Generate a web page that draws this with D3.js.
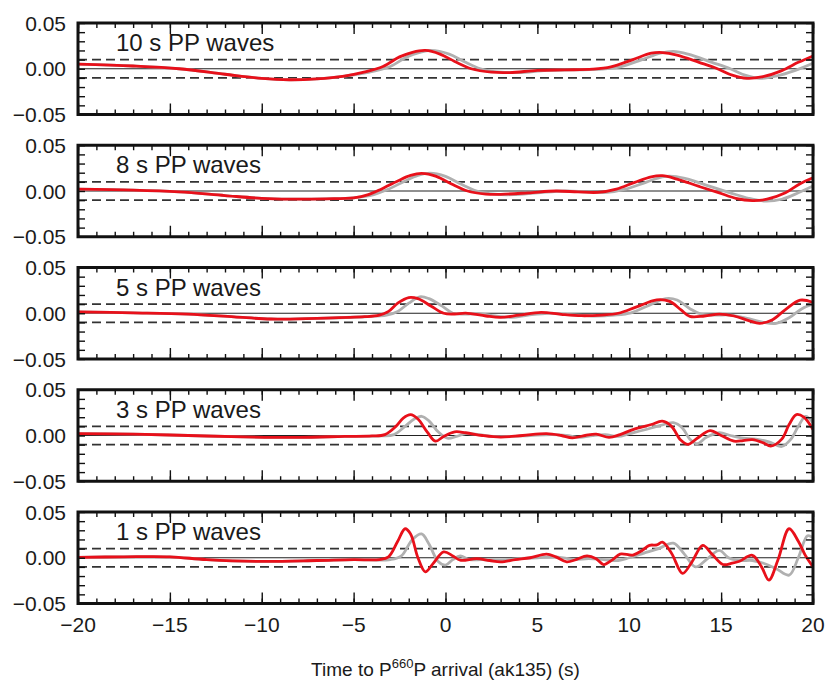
<!DOCTYPE html>
<html>
<head>
<meta charset="utf-8">
<script src="https://cdn.jsdelivr.net/npm/d3@7"></script>
<style>
  body { margin: 0; background: #fff; }
  text { font-family: "Liberation Sans", Arial, Helvetica, sans-serif; fill: #1a1a1a; }
</style>
</head>
<body>
<script>
// panel titles, top to bottom
var titles = ["10 s PP waves", "8 s PP waves", "5 s PP waves", "3 s PP waves", "1 s PP waves"];

var xTicks = [-20, -15, -10, -5, 0, 5, 10, 15, 20];
var yTicks = [-0.05, 0.00, 0.05];

// [time (s), amplitude]
// red = observed/new model, gray = reference (slightly later)
var red10 = [[-20,0.005],[-17,0.003],[-14.5,0.0],[-12,-0.006],[-10,-0.0105],[-8.5,-0.012],[-7,-0.011],[-5.5,-0.008],[-4.5,-0.004],[-3.4,0.0025],[-2.5,0.013],[-1.8,0.018],[-1.1,0.02],[-0.3,0.016],[0.5,0.008],[1.4,0.0],[2.5,-0.0038],[3.5,-0.0042],[5,-0.0018],[6.5,-0.0012],[8,-0.0005],[9,0.002],[10.2,0.01],[11.2,0.017],[11.8,0.0177],[12.6,0.015],[13.8,0.007],[14.8,0.0],[15.6,-0.007],[16.4,-0.0105],[17.2,-0.009],[18.3,-0.002],[19.2,0.007],[20,0.014]];
var gray10 = [[-20,0.005],[-17,0.003],[-14.5,0.0],[-12,-0.006],[-10,-0.0105],[-8.5,-0.012],[-7,-0.011],[-5.5,-0.008],[-4.2,-0.004],[-3.0,0.0025],[-2.1,0.013],[-1.4,0.018],[-0.8,0.02],[0.2,0.016],[1.0,0.008],[1.9,0.0],[3,-0.0038],[4,-0.0042],[5.5,-0.0018],[7,-0.0012],[8.5,-0.0005],[9.5,0.002],[10.7,0.01],[11.7,0.017],[12.4,0.019],[13.2,0.016],[14.5,0.007],[15.5,0.0],[16.3,-0.007],[17.1,-0.0105],[18,-0.008],[19,-0.002],[20,0.006]];

var red8 = [[-20,0.002],[-17,0.001],[-14.5,-0.001],[-12,-0.005],[-10,-0.008],[-8.5,-0.0088],[-6.5,-0.0085],[-5,-0.0075],[-4.2,-0.004],[-3.5,0.002],[-2.6,0.011],[-1.9,0.017],[-1.3,0.0192],[-0.5,0.016],[0.3,0.008],[1.2,0.0],[2.2,-0.0033],[3.0,-0.0036],[4.5,-0.002],[6,0.0],[7.2,-0.001],[8.3,-0.0015],[9.3,0.002],[10.3,0.0095],[11.2,0.0155],[11.8,0.0167],[12.6,0.013],[13.8,0.005],[14.9,-0.002],[15.8,-0.008],[16.7,-0.0105],[17.5,-0.009],[18.5,-0.002],[19.3,0.008],[20,0.0145]];
var gray8 = [[-20,0.002],[-17,0.001],[-14.5,-0.001],[-12,-0.005],[-10,-0.008],[-8.5,-0.0088],[-6.5,-0.0085],[-5,-0.0075],[-3.9,-0.004],[-3.1,0.002],[-2.2,0.011],[-1.5,0.017],[-0.85,0.0195],[0.0,0.016],[0.8,0.008],[1.7,0.0],[2.7,-0.0035],[3.7,-0.004],[5,-0.002],[6.5,0.0],[7.7,-0.001],[8.8,-0.0015],[9.8,0.002],[10.9,0.0095],[11.8,0.0155],[12.4,0.016],[13.2,0.013],[14.4,0.005],[15.5,-0.002],[16.5,-0.008],[17.4,-0.011],[18.3,-0.009],[19.2,-0.002],[20,0.0054]];

var red5 = [[-20,0.0016],[-17,0.0005],[-14,-0.001],[-11.5,-0.004],[-9.5,-0.0063],[-7,-0.0055],[-4.4,-0.0038],[-3.6,-0.002],[-3.1,0.002],[-2.6,0.011],[-2.0,0.0172],[-1.5,0.016],[-0.8,0.008],[-0.1,0.0],[0.5,-0.0008],[1.1,0.0002],[2.2,-0.003],[3.0,-0.0045],[4.0,-0.002],[5.2,0.001],[6.3,-0.0012],[7.4,-0.0027],[8.5,-0.002],[9.4,0.0],[10.4,0.007],[11.5,0.0147],[12.2,0.013],[12.8,0.004],[13.3,-0.0035],[14.1,-0.003],[14.9,-0.001],[15.7,-0.003],[16.5,-0.008],[17.1,-0.011],[17.8,-0.007],[18.5,0.004],[19.3,0.0143],[20,0.0118]];
var gray5 = [[-20,0.0016],[-17,0.0005],[-14,-0.001],[-11.5,-0.004],[-9.5,-0.0063],[-7,-0.0055],[-4.4,-0.0038],[-3.2,-0.002],[-2.6,0.002],[-2.0,0.011],[-1.4,0.018],[-0.9,0.016],[-0.2,0.008],[0.4,0.0],[1.1,-0.001],[1.8,-0.0005],[2.7,-0.003],[3.6,-0.0045],[4.5,-0.002],[5.6,0.0],[6.8,-0.0015],[8,-0.003],[9.2,-0.002],[10.1,0.0005],[11.0,0.008],[12.0,0.016],[12.6,0.0145],[13.3,0.005],[13.9,-0.001],[14.7,-0.002],[15.5,-0.002],[16.5,-0.006],[17.3,-0.01],[18.0,-0.011],[18.7,-0.005],[19.4,0.005],[20,0.01]];

var red3 = [[-20,0.002],[-17,0.0015],[-14,0.0],[-11,-0.0015],[-8,-0.002],[-5.5,-0.001],[-4,-0.0005],[-3.3,0.001],[-2.7,0.01],[-2.3,0.019],[-1.9,0.0228],[-1.5,0.018],[-1.0,0.004],[-0.55,-0.0062],[-0.1,-0.001],[0.5,0.004],[1.1,0.003],[2.0,0.0],[3.0,-0.0018],[4.2,0.0],[5.5,0.002],[6.3,0.0],[6.9,-0.0025],[7.6,0.0],[8.2,0.0015],[8.9,-0.002],[9.5,0.001],[10.2,0.0065],[11.2,0.012],[11.8,0.0156],[12.3,0.01],[12.8,-0.005],[13.2,-0.0098],[13.7,-0.003],[14.4,0.0054],[15.0,0.0],[15.7,-0.0062],[16.2,-0.0055],[16.7,-0.0045],[17.3,-0.008],[17.7,-0.0116],[18.3,-0.004],[18.7,0.012],[19.1,0.0228],[19.5,0.02],[20,0.0065]];
var gray3 = [[-20,0.002],[-17,0.0015],[-14,0.0],[-11,-0.0015],[-8,-0.002],[-5.5,-0.001],[-3.5,-0.0005],[-2.8,0.001],[-2.2,0.01],[-1.7,0.018],[-1.3,0.021],[-0.9,0.016],[-0.4,0.004],[0.1,-0.003],[0.6,-0.001],[1.1,0.002],[1.8,0.001],[2.6,-0.001],[3.5,-0.001],[4.6,0.0],[5.8,0.001],[6.6,0.0],[7.3,-0.002],[8.0,0.0],[8.7,0.001],[9.4,-0.001],[10.0,0.002],[10.8,0.006],[11.7,0.011],[12.4,0.014],[12.9,0.008],[13.3,-0.004],[13.7,-0.009],[14.2,-0.002],[14.9,0.003],[15.5,0.0],[16.2,-0.003],[16.9,-0.004],[17.6,-0.007],[18.3,-0.012],[18.8,-0.004],[19.2,0.01],[19.6,0.021],[20,0.014]];

var red1 = [[-20,0.0005],[-17.5,0.001],[-15,0.001],[-13,-0.002],[-10,-0.004],[-7,-0.003],[-5,-0.002],[-3.6,-0.002],[-3.1,0.001],[-2.6,0.018],[-2.2,0.0317],[-1.9,0.026],[-1.5,0.0],[-1.1,-0.0154],[-0.7,-0.007],[-0.1,0.0063],[0.4,0.002],[0.8,-0.0027],[1.7,-0.001],[2.4,-0.003],[3.0,-0.0045],[3.8,-0.002],[4.6,0.0],[5.5,0.004],[6.0,0.001],[6.6,-0.0045],[7.1,-0.002],[7.7,0.002],[8.2,-0.001],[8.6,-0.0074],[9.1,-0.002],[9.5,0.004],[10.2,0.003],[10.7,0.008],[11.1,0.0136],[11.5,0.014],[11.8,0.017],[12.3,0.005],[12.9,-0.017],[13.4,-0.005],[14.0,0.0136],[14.5,0.004],[15.1,-0.0074],[15.6,-0.006],[16.0,-0.0038],[16.7,0.0027],[17.2,-0.01],[17.6,-0.0245],[18.1,-0.002],[18.7,0.0317],[19.2,0.018],[19.6,0.002],[20,-0.01]];
var gray1 = [[-20,0.0005],[-17.5,0.001],[-15,0.001],[-13,-0.002],[-10,-0.004],[-7,-0.003],[-5,-0.002],[-3.0,-0.002],[-2.4,0.002],[-1.8,0.02],[-1.3,0.026],[-0.9,0.015],[-0.4,-0.004],[0.0,-0.008],[0.4,-0.002],[0.8,0.002],[1.3,-0.002],[2.0,-0.002],[3.0,-0.003],[4.0,-0.001],[5.0,0.0],[6.0,0.001],[7.0,-0.002],[7.8,-0.001],[8.6,-0.002],[9.4,-0.003],[10.0,0.0],[10.8,0.005],[11.6,0.01],[12.4,0.016],[13.0,0.004],[13.6,-0.01],[14.2,-0.002],[14.9,0.008],[15.4,0.0],[16.0,-0.003],[16.7,-0.003],[17.3,-0.006],[18.0,-0.012],[18.7,-0.019],[19.2,0.0],[19.7,0.024],[20,0.022]];

var redSeries = [red10, red8, red5, red3, red1];
var graySeries = [gray10, gray8, gray5, gray3, gray1];

var width = 825,
    height = 682,
    left = 78, right = 813,
    top0 = 23, step = 122.25, ph = 91.5;

var svg = d3.select("body").append("svg")
    .attr("width", width)
    .attr("height", height);

var x = d3.scaleLinear().domain([-20, 20]).range([left, right]);
var fmtY = d3.format(".2f");

var line = d3.line()
    .x(function(d) { return x(d[0]); })
    .curve(d3.curveCatmullRom.alpha(0.5));

titles.forEach(function(title, i) {
  var top = top0 + i * step;
  var y = d3.scaleLinear().domain([-0.05, 0.05]).range([top + ph, top]);
  var g = svg.append("g");

  g.append("clipPath").attr("id", "clip" + i)
    .append("rect").attr("x", left).attr("y", top).attr("width", right - left).attr("height", ph);

  // zero line and +/-0.01 dashed lines
  g.append("line")
      .attr("x1", left).attr("x2", right)
      .attr("y1", y(0)).attr("y2", y(0))
      .attr("stroke", "#222").attr("stroke-width", 1.2);
  [0.01, -0.01].forEach(function(v) {
    g.append("line")
        .attr("x1", left).attr("x2", right)
        .attr("y1", y(v)).attr("y2", y(v))
        .attr("stroke", "#333").attr("stroke-width", 1.6)
        .attr("stroke-dasharray", "9,5");
  });

  line.y(function(d) { return y(d[1]); });
  var traces = g.append("g").attr("clip-path", "url(#clip" + i + ")");
  traces.append("path").datum(graySeries[i])
      .attr("d", line).attr("fill", "none")
      .attr("stroke", "#b0b0b0").attr("stroke-width", 2.8);
  traces.append("path").datum(redSeries[i])
      .attr("d", line).attr("fill", "none")
      .attr("stroke", "#e8101a").attr("stroke-width", 2.8);

  // ticks, pointing inward
  var minorX = d3.range(-20, 21, 1);
  g.append("g").attr("transform", "translate(0," + (top + ph) + ")")
      .call(d3.axisBottom(x).tickValues(minorX).tickSize(-5).tickFormat(""));
  g.append("g").attr("transform", "translate(0," + (top + ph) + ")")
      .call(d3.axisBottom(x).tickValues(xTicks).tickSize(-11).tickFormat(""));
  g.append("g").attr("transform", "translate(0," + top + ")")
      .call(d3.axisTop(x).tickValues(minorX).tickSize(-5).tickFormat(""));
  g.append("g").attr("transform", "translate(0," + top + ")")
      .call(d3.axisTop(x).tickValues(xTicks).tickSize(-11).tickFormat(""));

  var minorY = d3.range(-5, 6).map(function(k) { return k / 100; });
  g.append("g").attr("transform", "translate(" + left + ",0)")
      .call(d3.axisLeft(y).tickValues(minorY).tickSize(-7).tickFormat(""));
  g.append("g").attr("transform", "translate(" + right + ",0)")
      .call(d3.axisRight(y).tickValues(minorY).tickSize(-7).tickFormat(""));

  g.selectAll(".domain").remove();
  g.selectAll(".tick line").attr("stroke", "#111").attr("stroke-width", 1.4);

  // y labels
  g.selectAll(".ylab").data(yTicks).enter().append("text")
      .attr("x", left - 12)
      .attr("y", function(d) { return y(d); })
      .attr("dy", "0.36em")
      .attr("text-anchor", "end")
      .style("font-size", "21px")
      .text(function(d) { return fmtY(d); });

  // frame
  g.append("rect")
      .attr("x", left).attr("y", top)
      .attr("width", right - left).attr("height", ph)
      .attr("fill", "none").attr("stroke", "#111").attr("stroke-width", 3);

  g.append("text")
      .attr("x", left + 38).attr("y", top + 28)
      .style("font-size", "24px")
      .text(title);
});

// x tick labels under the last panel
var bottom = top0 + 4 * step + ph;
svg.selectAll(".xlab").data(xTicks).enter().append("text")
    .attr("x", function(d) { return x(d); })
    .attr("y", bottom + 21)
    .attr("dy", "0.36em")
    .attr("text-anchor", "middle")
    .style("font-size", "21px")
    .text(function(d) { return d3.format("d")(d); });

var xl = svg.append("text")
    .attr("x", (left + right) / 2)
    .attr("y", 676)
    .attr("text-anchor", "middle")
    .style("font-size", "19px");
xl.append("tspan").text("Time to P");
xl.append("tspan").attr("dy", -8).style("font-size", "13px").text("660");
xl.append("tspan").attr("dy", 8).text("P arrival (ak135) (s)");
</script>
</body>
</html>
